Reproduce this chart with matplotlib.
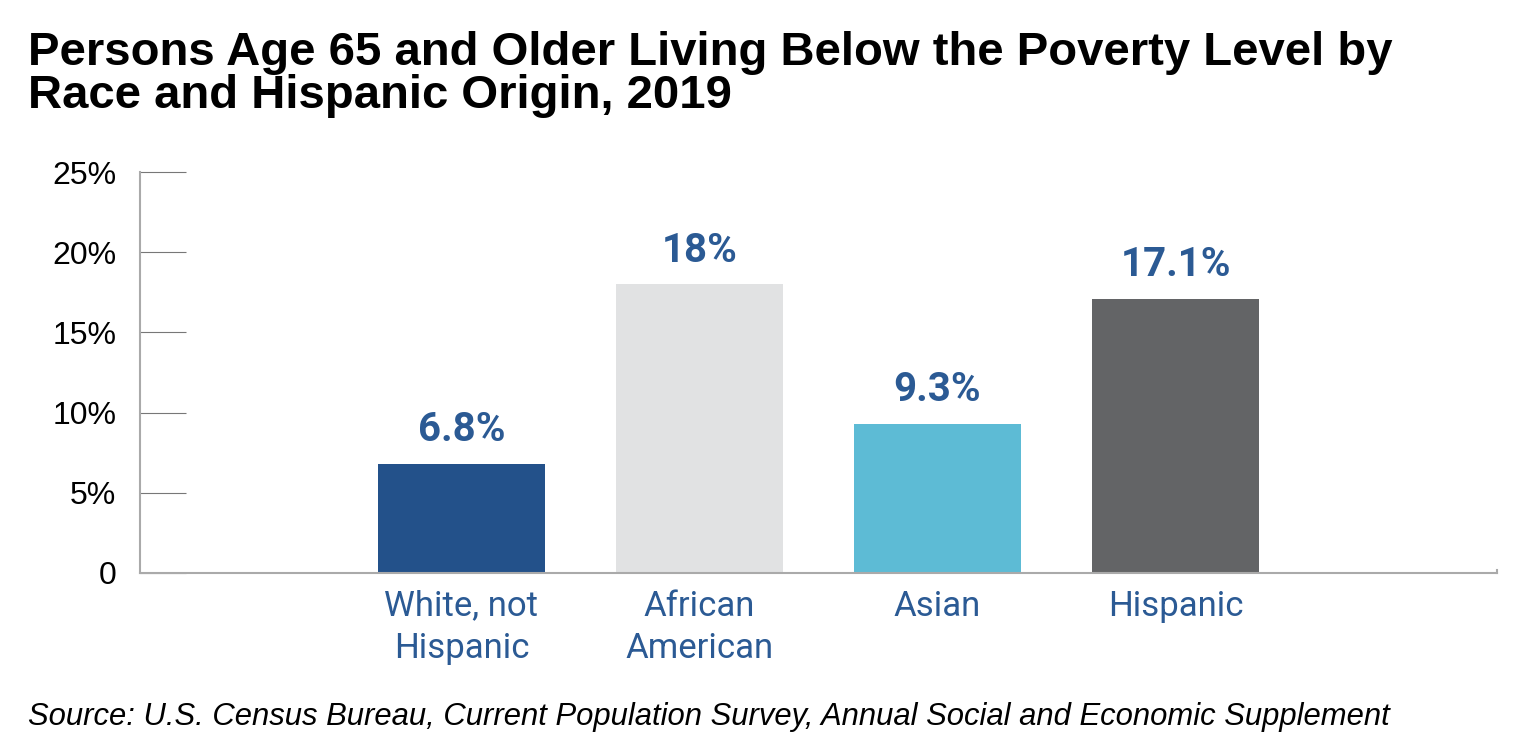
import matplotlib.pyplot as plt

categories = ["White, not\nHispanic", "African\nAmerican", "Asian", "Hispanic"]
values = [6.8, 18.0, 9.3, 17.1]
value_labels = ["6.8%", "18%", "9.3%", "17.1%"]
colors = ["#23518a", "#e1e2e3", "#5dbbd5", "#636466"]
yticks = [0, 5, 10, 15, 20, 25]
ytick_labels = ["0", "5%", "10%", "15%", "20%", "25%"]

narrow = "Roboto"

fig = plt.figure(figsize=(15.36, 7.56), dpi=100)
ax = fig.add_axes([140/1536, 183/756, 1357/1536, 401/756])

x = list(range(len(values)))
ax.bar(x, values, width=167/238, color=colors, zorder=2)
for xi, v, lab in zip(x, values, value_labels):
    ax.text(xi, v + 0.9, lab, ha="center", va="bottom", color="#2b5a94",
            fontsize=29, fontweight="bold", family=narrow)

ax.set_xlim(-1.35, 4.35)
ax.set_ylim(0, 25)
ax.set_yticks(yticks)
ax.set_yticklabels(ytick_labels, fontsize=23, family="Liberation Sans")
ax.tick_params(axis="y", direction="in", length=33, color="#777777", pad=17)
ax.set_xticks(x)
ax.set_xticklabels(categories, fontsize=25, color="#2b5a94", family=narrow,
                   linespacing=1.35, va="top")
ax.tick_params(axis="x", length=0, pad=12)

ax.spines["top"].set_visible(False)
ax.spines["right"].set_visible(False)
ax.spines["left"].set_color("#aaaaaa")
ax.spines["bottom"].set_color("#aaaaaa")
ax.spines["left"].set_linewidth(1.5)
ax.spines["bottom"].set_linewidth(1.5)
ax.plot([4.35, 4.35], [0, 0.2], color="#aaaaaa", lw=1.5, clip_on=False)

fig.text(28/1536, 1 - 108/756, "Persons Age 65 and Older Living Below the Poverty Level by\nRace and Hispanic Origin, 2019",
         fontsize=34, fontweight="bold", family="Liberation Sans", va="baseline",
         linespacing=0.98)
fig.text(28/1536, 1 - 725/756, "Source: U.S. Census Bureau, Current Population Survey, Annual Social and Economic Supplement",
         fontsize=22.3, style="italic", family="Liberation Sans", va="baseline")

fig.savefig("out.png", dpi=100)
